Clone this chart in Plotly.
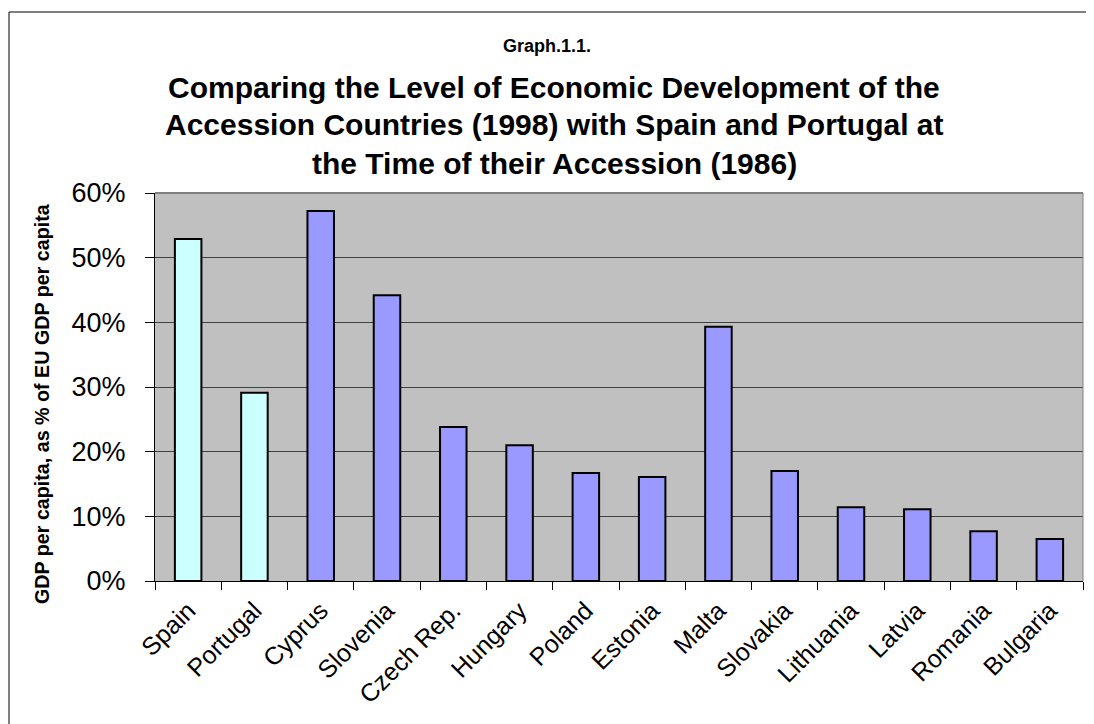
import plotly.graph_objects as go

countries = ["Spain", "Portugal", "Cyprus", "Slovenia", "Czech Rep.", "Hungary", "Poland",
             "Estonia", "Malta", "Slovakia", "Lithuania", "Latvia", "Romania", "Bulgaria"]
gdp_share = [0.529, 0.291, 0.572, 0.442, 0.238, 0.210, 0.167,
             0.161, 0.393, 0.170, 0.114, 0.111, 0.077, 0.065]
bar_colors = ["#CCFFFF", "#CCFFFF"] + ["#9999FF"] * 12
y_ticks = [0, 0.1, 0.2, 0.3, 0.4, 0.5, 0.6]

FONT = "Liberation Sans, Arial, sans-serif"
OFF = 8  # page body margin
W, H = 1094 - OFF, 724 - OFF
# target plot area in window pixels: x 155..1083, y 193..581
L = 155 - OFF
T = 193 - OFF
R = W - (1083 - OFF)
B = H - (581 - OFF)
PW, PH = W - L - R, H - T - B

def px_x(px):
    return (px - OFF - L) / PW

def px_y(py):
    return (H - B - (py - OFF)) / PH

fig = go.Figure(go.Bar(
    x=countries, y=gdp_share,
    marker=dict(color=bar_colors, line=dict(color="black", width=2)),
    width=0.4,
))

fig.update_layout(
    width=W, height=H,
    margin=dict(l=L, r=R, t=T, b=B, autoexpand=False),
    paper_bgcolor="white", plot_bgcolor="#C0C0C0",
    showlegend=False,
    font=dict(family=FONT, color="black"),
    bargap=0.6,
)
fig.update_xaxes(
    type="category", tickangle=-45, tickson="boundaries",
    ticks="outside", ticklen=8, tickcolor="black",
    showline=True, linecolor="black", linewidth=1,
    tickfont=dict(size=25, family=FONT), showgrid=False,
    ticklabelstandoff=4,
)
fig.update_yaxes(
    range=[0, 0.6], tickvals=y_ticks, tickformat=".0%",
    ticks="outside", ticklen=9, tickcolor="black",
    showline=True, linecolor="black", linewidth=1,
    gridcolor="#404040", gridwidth=1,
    tickfont=dict(size=27, family=FONT), zeroline=False,
    ticklabelstandoff=14,
)

# plot-area top/right border
fig.add_shape(type="line", xref="paper", yref="paper", x0=0, x1=1, y0=1, y1=1,
              line=dict(color="#808080", width=2))
fig.add_shape(type="line", xref="paper", yref="paper", x0=1, x1=1, y0=0, y1=1,
              line=dict(color="#808080", width=1))
# outer chart border
fig.add_shape(type="rect", xref="paper", yref="paper",
              x0=px_x(9), x1=px_x(1089), y0=px_y(740), y1=px_y(12),
              line=dict(color="black", width=1), fillcolor="rgba(0,0,0,0)", layer="below")

fig.add_annotation(text="<b>Graph.1.1.</b>", xref="paper", yref="paper",
                   x=px_x(547), y=px_y(46), xanchor="center", yanchor="middle",
                   showarrow=False, font=dict(size=18, family=FONT))
title_lines = ["Comparing the Level of Economic Development of the",
               "Accession Countries (1998) with Spain and Portugal at",
               "the Time of their Accession (1986)"]
for i, line in enumerate(title_lines):
    fig.add_annotation(text="<b>" + line + "</b>", xref="paper", yref="paper",
                       x=px_x(554), y=px_y(87 + 38 * i), xanchor="center", yanchor="middle",
                       showarrow=False, font=dict(size=30, family=FONT))

fig.add_annotation(text="<b>GDP per capita, as % of EU GDP per capita</b>", xref="paper", yref="paper",
                   x=px_x(42), y=px_y(404), xanchor="center", yanchor="middle",
                   showarrow=False, textangle=-90,
                   font=dict(size=19.7, family=FONT))

fig.write_html("out.html")
